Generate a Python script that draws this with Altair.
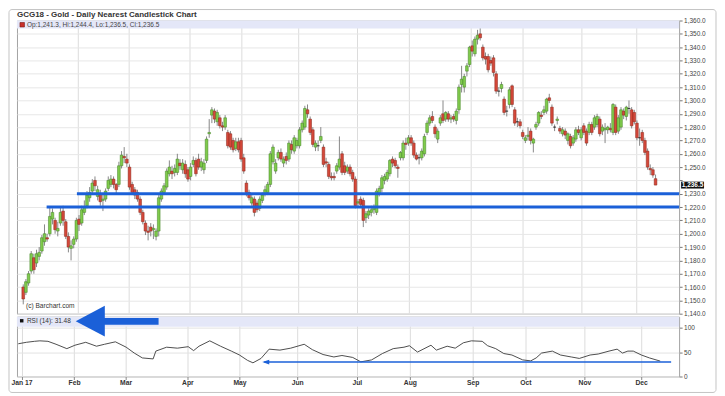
import altair as alt
import pandas as pd

# ---------------- data ----------------
opens = [
    1160, 1156, 1163, 1172, 1182, 1178, 1183, 1187, 1194, 1197,
    1200, 1211, 1210, 1202, 1208, 1217, 1209, 1198, 1189, 1192,
    1196, 1211, 1208, 1216, 1221, 1227, 1232, 1240, 1228, 1230,
    1225, 1226, 1234, 1237, 1241, 1237, 1237, 1251, 1258, 1256,
    1250, 1237, 1233, 1231, 1226, 1216, 1208, 1202, 1205, 1203,
    1198, 1202, 1226, 1231, 1235, 1245, 1247, 1246, 1246, 1253,
    1248, 1252, 1248, 1243, 1252, 1255, 1256, 1250, 1248, 1255,
    1275, 1289, 1292, 1284, 1287, 1281, 1280, 1276, 1275, 1270,
    1264, 1269, 1270, 1257, 1238, 1231, 1223, 1226, 1223, 1219,
    1225, 1230, 1231, 1237, 1254, 1247, 1257, 1261, 1253, 1258,
    1256, 1267, 1262, 1266, 1266, 1278, 1280, 1293, 1286, 1278,
    1265, 1266, 1270, 1265, 1254, 1252, 1243, 1243, 1247, 1250,
    1260, 1251, 1247, 1250, 1246, 1241, 1223, 1226, 1225, 1212,
    1214, 1216, 1218, 1216, 1230, 1234, 1240, 1241, 1245, 1256,
    1255, 1250, 1257, 1257, 1268, 1268, 1272, 1268, 1259, 1257,
    1257, 1260, 1276, 1283, 1288, 1280, 1271, 1283, 1290, 1286,
    1290, 1286, 1288, 1285, 1293, 1312, 1310, 1322, 1327, 1341,
    1335, 1346, 1350, 1340, 1333, 1333, 1330, 1332, 1320, 1307,
    1309, 1301, 1292, 1297, 1311, 1293, 1284, 1284, 1276, 1270,
    1273, 1277, 1268, 1280, 1283, 1289, 1291, 1292, 1302, 1295,
    1280, 1285, 1279, 1275, 1277, 1270, 1273, 1268, 1271, 1278,
    1272, 1281, 1277, 1276, 1282, 1280, 1282, 1286, 1277, 1278,
    1278, 1279, 1276, 1295, 1277, 1280, 1292, 1288, 1294, 1293,
    1291, 1283, 1272, 1276, 1270, 1262, 1249, 1248, 1241.3,
]
highs = [
    1162, 1166, 1172, 1187, 1185, 1188, 1190, 1199, 1207, 1200,
    1220, 1219, 1212, 1209, 1220, 1221, 1211, 1201, 1195, 1198,
    1212, 1214, 1221, 1225, 1232, 1235, 1241, 1243, 1236, 1233,
    1230, 1234, 1243, 1244, 1243, 1238, 1254, 1262, 1265, 1260,
    1252, 1239, 1235, 1233, 1228, 1218, 1210, 1206, 1208, 1207,
    1204, 1229, 1234, 1238, 1249, 1255, 1251, 1252, 1260, 1256,
    1256, 1255, 1250, 1253, 1258, 1257, 1260, 1257, 1256, 1273,
    1286, 1295, 1294, 1293, 1289, 1284, 1289, 1278, 1277, 1272,
    1272, 1272, 1272, 1260, 1240, 1233, 1229, 1228, 1225, 1228,
    1231, 1236, 1239, 1262, 1267, 1256, 1263, 1264, 1258, 1261,
    1270, 1270, 1274, 1272, 1280, 1285, 1296, 1297, 1288, 1280,
    1270, 1270, 1280, 1267, 1257, 1254, 1246, 1246, 1253, 1273,
    1262, 1254, 1252, 1252, 1248, 1243, 1226, 1228, 1227, 1217,
    1219, 1221, 1222, 1234, 1236, 1244, 1245, 1248, 1256, 1258,
    1257, 1252, 1262, 1270, 1272, 1274, 1274, 1270, 1261, 1260,
    1264, 1275, 1285, 1289, 1292, 1282, 1279, 1289, 1300, 1292,
    1292, 1289, 1290, 1294, 1312, 1326, 1320, 1328, 1341, 1345,
    1348, 1353, 1358, 1342, 1336, 1335, 1333, 1334, 1322, 1310,
    1314, 1303, 1296, 1310, 1312, 1295, 1287, 1286, 1278, 1274,
    1280, 1279, 1272, 1284, 1292, 1292, 1296, 1302, 1305, 1297,
    1282, 1288, 1281, 1280, 1279, 1276, 1275, 1274, 1280, 1281,
    1280, 1283, 1279, 1284, 1284, 1289, 1290, 1288, 1282, 1283,
    1281, 1283, 1298, 1297, 1289, 1295, 1294, 1296, 1300, 1295,
    1293, 1285, 1279, 1278, 1272, 1264, 1252, 1250, 1244.4,
]
lows = [
    1147, 1154, 1161, 1170, 1170, 1175, 1180, 1185, 1191, 1194,
    1198, 1207, 1200, 1198, 1206, 1206, 1196, 1186, 1180, 1189,
    1194, 1202, 1206, 1214, 1219, 1224, 1230, 1232, 1225, 1221,
    1217, 1224, 1232, 1235, 1234, 1230, 1235, 1249, 1253, 1250,
    1233, 1229, 1226, 1224, 1214, 1207, 1199, 1195, 1198, 1196,
    1195, 1198, 1224, 1229, 1233, 1243, 1241, 1243, 1244, 1248,
    1245, 1242, 1239, 1240, 1250, 1243, 1248, 1247, 1245, 1253,
    1272, 1283, 1283, 1281, 1279, 1277, 1278, 1264, 1263, 1261,
    1262, 1261, 1254, 1245, 1228, 1225, 1221, 1213, 1216, 1217,
    1223, 1228, 1229, 1235, 1252, 1245, 1255, 1254, 1250, 1252,
    1254, 1260, 1260, 1264, 1264, 1276, 1278, 1287, 1274, 1265,
    1262, 1262, 1268, 1250, 1250, 1241, 1240, 1240, 1245, 1248,
    1244, 1244, 1245, 1243, 1239, 1219, 1220, 1220, 1205, 1208,
    1211, 1213, 1215, 1214, 1228, 1231, 1237, 1239, 1243, 1250,
    1249, 1242, 1255, 1255, 1263, 1266, 1266, 1257, 1255, 1252,
    1255, 1258, 1274, 1281, 1283, 1272, 1268, 1281, 1283, 1284,
    1284, 1283, 1284, 1282, 1290, 1306, 1306, 1318, 1325, 1333,
    1333, 1342, 1345, 1330, 1327, 1321, 1326, 1318, 1305, 1303,
    1306, 1289, 1288, 1294, 1295, 1281, 1280, 1279, 1271, 1268,
    1270, 1267, 1261, 1278, 1281, 1286, 1289, 1290, 1298, 1281,
    1277, 1282, 1275, 1273, 1271, 1267, 1264, 1266, 1269, 1274,
    1270, 1274, 1266, 1274, 1274, 1278, 1280, 1273, 1274, 1268,
    1275, 1276, 1274, 1274, 1275, 1278, 1286, 1285, 1290, 1279,
    1282, 1270, 1266, 1268, 1259, 1248, 1244, 1242, 1236.5,
]
closes = [
    1151, 1164, 1170, 1185, 1173, 1185, 1186, 1197, 1200, 1196,
    1213, 1216, 1203, 1204, 1216, 1210, 1198, 1190, 1191, 1196,
    1210, 1207, 1218, 1220, 1229, 1231, 1238, 1236, 1233, 1224,
    1226, 1232, 1240, 1241, 1237, 1233, 1251, 1259, 1257, 1253,
    1235, 1231, 1229, 1226, 1216, 1209, 1202, 1201, 1202, 1204,
    1202, 1227, 1232, 1236, 1247, 1250, 1245, 1249, 1256, 1251,
    1253, 1245, 1241, 1250, 1255, 1245, 1250, 1254, 1253, 1271,
    1276, 1293, 1286, 1291, 1281, 1280, 1287, 1266, 1265, 1263,
    1269, 1263, 1256, 1247, 1231, 1227, 1227, 1216, 1218, 1226,
    1229, 1233, 1237, 1260, 1265, 1253, 1261, 1256, 1256, 1255,
    1268, 1263, 1272, 1270, 1278, 1283, 1294, 1290, 1276, 1267,
    1268, 1266, 1273, 1252, 1253, 1243, 1242, 1242, 1251, 1256,
    1246, 1246, 1250, 1245, 1241, 1221, 1224, 1222, 1210, 1215,
    1217, 1218, 1220, 1232, 1234, 1242, 1243, 1246, 1255, 1253,
    1251, 1249, 1261, 1268, 1267, 1272, 1268, 1259, 1256, 1257,
    1262, 1273, 1283, 1287, 1285, 1275, 1277, 1287, 1285, 1291,
    1286, 1287, 1286, 1292, 1310, 1316, 1318, 1326, 1340, 1337,
    1346, 1349, 1347, 1332, 1331, 1323, 1328, 1321, 1307, 1307,
    1312, 1291, 1292, 1308, 1297, 1283, 1284, 1281, 1273, 1272,
    1274, 1270, 1271, 1282, 1291, 1288, 1293, 1301, 1300, 1283,
    1280, 1286, 1277, 1278, 1274, 1275, 1266, 1272, 1278, 1276,
    1278, 1276, 1268, 1282, 1276, 1287, 1288, 1275, 1280, 1279,
    1280, 1278, 1297, 1276, 1287, 1293, 1289, 1295, 1294, 1281,
    1284, 1272, 1272, 1270, 1261, 1250, 1248, 1244, 1236.5,
]

rsi_idx = [0, 3, 6, 8, 11, 14, 18, 21, 25, 29,
           32, 36, 40, 43, 46, 50, 51, 55, 59, 63,
           65, 67, 71, 75, 79, 82, 85, 87, 90, 93,
           97, 101, 106, 109, 113, 117, 120, 124, 127, 131,
           135, 139, 143, 145, 148, 153, 155, 159, 162, 165,
           168, 172, 174, 177, 180, 183, 187, 190, 192, 194,
           198, 201, 205, 208, 212, 215, 219, 222, 224, 226,
           228, 231, 234, 238]
rsi_val = [67, 70, 72, 73, 72, 66, 57, 64, 70, 62,
           66, 71, 60, 48, 38, 36, 52, 60, 58, 61,
           53, 62, 73, 62, 52, 44, 33, 28, 37, 56,
           54, 58, 66, 55, 45, 40, 43, 39, 30, 34,
           47, 57, 60, 63, 50, 64, 54, 62, 58, 69,
           73, 72, 63, 57, 47, 44, 34, 32, 38, 48,
           52, 44, 40, 37, 44, 46, 52, 56, 48, 52,
           52, 44, 38, 31.5]

month_pos = [1.2, 20.7, 39.8, 62.7, 82.0, 103.4, 125.5, 145.2, 168.5, 188.0, 209.9, 230.9]
month_labels = ["Jan 17", "Feb", "Mar", "Apr", "May", "Jun", "Jul", "Aug", "Sep", "Oct", "Nov", "Dec"]
price_ticks = list(range(1140, 1361, 10))
rsi_ticks = [0, 50, 100]

support_levels = [1230, 1220]
support_from = [20.2, 8.8]
rsi_arrow_level = 29.5

title_text = "GCG18 - Gold - Daily Nearest Candlestick Chart"
ohlc_text = "Op:1,241.3, Hi:1,244.4, Lo:1,236.5, Cl:1,236.5"
rsi_text = "RSI (14): 31.48"
last_price = 1236.5
last_label = "1,236.5"
credit = "(c) Barchart.com"

# ---------------- tables ----------------
n = len(closes)


def direction(o, c):
    if c - o > 0.8:
        return "up"
    if o - c > 0.8:
        return "down"
    return "doji"


candles = pd.DataFrame({
    "idx": list(range(n)), "open": opens, "high": highs,
    "low": lows, "close": closes,
    "dir": [direction(o, c) for o, c in zip(opens, closes)],
})
rsi_df = pd.DataFrame({"idx": rsi_idx, "rsi": rsi_val})
one = pd.DataFrame({"k": [0]})

# ---------------- geometry & style ----------------
W, H, RH = 664, 294, 60
FONT = "Liberation Sans"
BLUE = "#1b60d8"
BAND = "#e4e7f8"

xscale = alt.Scale(domain=[-0.48, 244.99], nice=False, zero=False)
yscale = alt.Scale(domain=[1140, 1360], nice=False, zero=False)
rscale = alt.Scale(domain=[0, 122.45], nice=False, zero=False)

x_main_axis = alt.Axis(values=month_pos[1:], labels=False, ticks=False, domain=False,
                       grid=True, gridColor="#dcdcdc", title=None)
y_main_axis = alt.Axis(orient="right", values=price_ticks,
                       labelExpr="datum.value == 1240 ? '' : format(datum.value, ',.1f')",
                       tickSize=3, tickColor="#777", labelFontSize=6.5, labelColor="#444",
                       labelFont=FONT, labelPadding=1.5, domain=False, grid=True,
                       gridColor="#e7e7e7", title=None)

lab_expr = "''"
for pos, lab in reversed(list(zip(month_pos, month_labels))):
    lab_expr = f"abs(datum.value - {pos}) < 0.05 ? '{lab}' : ({lab_expr})"

x_rsi_axis = alt.Axis(values=month_pos, labelExpr=lab_expr, labelFontSize=6.8,
                      labelFontWeight="bold", labelColor="#333", labelFont=FONT,
                      tickSize=3, tickColor="#888", labelPadding=0, domain=False,
                      grid=True, gridColor="#dcdcdc", title=None, labelFlush=False)
y_rsi_axis = alt.Axis(orient="right", values=rsi_ticks, tickSize=3, tickColor="#777",
                      labelFontSize=6.5, labelColor="#444", labelFont=FONT,
                      labelPadding=1.5, domain=False, grid=True, gridColor="#e2e2e2",
                      title=None)

xm = alt.X("idx:Q", scale=xscale, axis=x_main_axis)

# ---------------- main (price) panel ----------------
frame = alt.Chart(one).mark_rect(fillOpacity=0, stroke="#c4c4c4", strokeWidth=1,
                                 cornerRadius=3).encode(
    x=alt.value(-8), x2=alt.value(701), y=alt.value(-11), y2=alt.value(373))

wicks = alt.Chart(candles).mark_rule(color="#6a6a6a", strokeWidth=0.8).encode(
    x=xm, y=alt.Y("low:Q", scale=yscale, axis=y_main_axis), y2="high:Q")

bodies = alt.Chart(candles).mark_bar(size=2.7, strokeWidth=0.5).encode(
    x=xm,
    y=alt.Y("open:Q", scale=yscale, axis=y_main_axis), y2="close:Q",
    fill=alt.Color("dir:N", scale=alt.Scale(domain=["up", "down", "doji"],
                                            range=["#80cb4c", "#d4483a", "#222222"]),
                   legend=None),
    stroke=alt.Stroke("dir:N", scale=alt.Scale(domain=["up", "down", "doji"],
                                               range=["#3f7f22", "#8a2418", "#111111"]),
                      legend=None),
)

header_band = alt.Chart(one).mark_rect(color=BAND).encode(
    x=alt.value(0), x2=alt.value(W), y=alt.value(0), y2=alt.value(8))
header_sq = alt.Chart(one).mark_rect(fill="#c9302c", stroke="#7a1a16", strokeWidth=0.6).encode(
    x=alt.value(3), x2=alt.value(7.5), y=alt.value(2), y2=alt.value(6.5))
header_txt = alt.Chart(one).mark_text(text=ohlc_text, align="left", baseline="middle",
                                      fontSize=6.5, font=FONT, color="#444").encode(
    x=alt.value(10), y=alt.value(4.4))
title = alt.Chart(one).mark_text(text=title_text, align="left", baseline="alphabetic",
                                 fontSize=8, fontWeight="bold", font=FONT,
                                 color="#333").encode(x=alt.value(0), y=alt.value(-3.7))
credit_txt = alt.Chart(one).mark_text(text=credit, align="left", baseline="middle",
                                      fontSize=6.6, font=FONT, color="#333").encode(
    x=alt.value(9), y=alt.value(286.5))

supports = [
    alt.Chart(one).mark_rule(color=BLUE, strokeWidth=3).encode(
        x=alt.X(datum=start, scale=xscale, axis=x_main_axis), x2=alt.value(W),
        y=alt.Y(datum=lvl, scale=yscale, axis=y_main_axis))
    for lvl, start in zip(support_levels, support_from)
]

price_box = alt.Chart(one).mark_point(shape="M -1 -0.3 L 1 -0.3 L 1 0.3 L -1 0.3 Z",
                                      size=529, filled=True, color="#111", opacity=1,
                                      strokeWidth=0).encode(
    x=alt.value(W + 13.5), y=alt.Y(datum=last_price, scale=yscale, axis=y_main_axis))
price_txt = alt.Chart(one).mark_text(text=last_label, align="center", baseline="middle",
                                     fontSize=6.5, fontWeight="bold", font=FONT,
                                     color="white").encode(
    x=alt.value(W + 13.5), y=alt.Y(datum=last_price, scale=yscale, axis=y_main_axis))

main = alt.layer(frame, wicks, bodies, header_band, header_sq, header_txt, title,
                 credit_txt, *supports, price_box, price_txt).properties(width=W, height=H)

# ---------------- RSI panel ----------------
xr = alt.X("idx:Q", scale=xscale, axis=x_rsi_axis)

rsi_band = alt.Chart(one).mark_rect(color=BAND).encode(
    x=alt.value(0), x2=alt.value(W), y=alt.value(0), y2=alt.value(10))
rsi_sq = alt.Chart(one).mark_rect(color="#111").encode(
    x=alt.value(3), x2=alt.value(6.5), y=alt.value(2.4), y2=alt.value(5.8))
rsi_txt = alt.Chart(one).mark_text(text=rsi_text, align="left", baseline="middle",
                                   fontSize=6.5, font=FONT, color="#333").encode(
    x=alt.value(10), y=alt.value(4.3))
rsi_line = alt.Chart(rsi_df).mark_line(color="#3a3a3a", strokeWidth=0.9).encode(
    x=xr, y=alt.Y("rsi:Q", scale=rscale, axis=y_rsi_axis))
thin_arrow = alt.Chart(one).mark_rule(color=BLUE, strokeWidth=1.5).encode(
    x=alt.value(248), x2=alt.value(656),
    y=alt.Y(datum=rsi_arrow_level, scale=rscale, axis=y_rsi_axis))
thin_head = alt.Chart(one).mark_point(shape="M -1 0 L 1 -0.7 L 1 0.7 Z", size=49,
                                      filled=True, color=BLUE, opacity=1,
                                      strokeWidth=0).encode(
    x=alt.value(249.5), y=alt.Y(datum=rsi_arrow_level, scale=rscale, axis=y_rsi_axis))
big_shaft = alt.Chart(one).mark_rect(color=BLUE).encode(
    x=alt.value(85), x2=alt.value(142), y=alt.value(1.3), y2=alt.value(8))
big_head = alt.Chart(one).mark_point(shape="M -0.94 0 L 0.94 -1 L 0.94 1 Z", size=961,
                                     filled=True, color=BLUE, opacity=1,
                                     strokeWidth=0).encode(
    x=alt.value(73.5), y=alt.value(4.5))

rsi = alt.layer(rsi_band, rsi_sq, rsi_txt, rsi_line, thin_arrow, thin_head,
                big_shaft, big_head).properties(width=W, height=RH)

chart = alt.vconcat(main, rsi, spacing=3, bounds="flush").properties(
    padding=0, background="white"
).configure_view(stroke="#a3a3a3", strokeWidth=1)

chart.save("out.html", embed_options={"renderer": "svg", "actions": False})
